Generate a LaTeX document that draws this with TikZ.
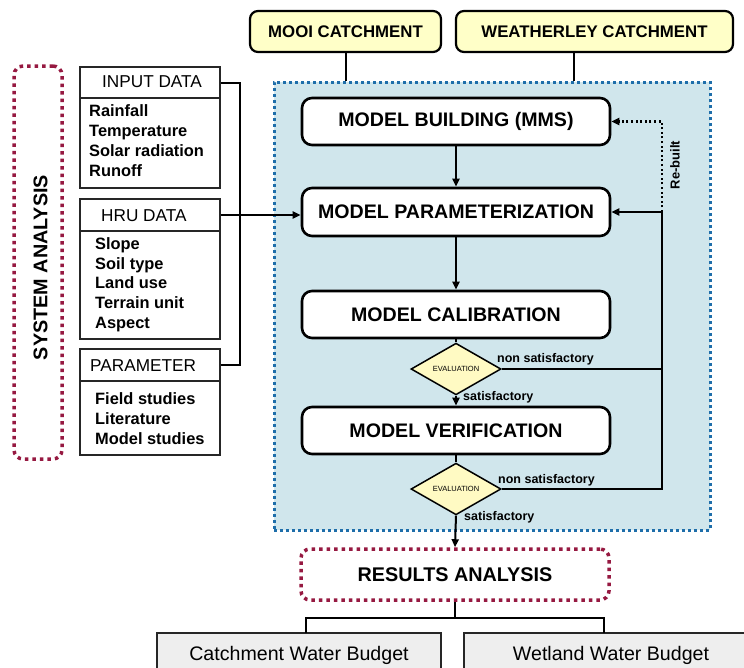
\documentclass[tikz,border=0pt]{standalone}
\usepackage{fontspec}
\setmainfont{Liberation Sans}
\usetikzlibrary{arrows.meta,shapes.geometric}
\definecolor{catfill}{RGB}{255,255,200}
\definecolor{framefill}{RGB}{208,230,236}
\definecolor{frameblue}{RGB}{30,110,170}
\definecolor{maroondot}{RGB}{150,25,65}
\definecolor{evalfill}{RGB}{255,250,195}
\definecolor{budgetfill}{RGB}{238,238,238}
\begin{document}
\begin{tikzpicture}[x=1pt,y=-1pt,
  every node/.style={inner sep=0pt},
  catbox/.style={draw=black, fill=catfill, line width=2.2pt, rounded corners=8pt, font=\fontsize{16.8}{18}\selectfont\bfseries},
  stepbox/.style={draw=black, fill=white, line width=2.6pt, rounded corners=10pt, minimum width=308pt, minimum height=47pt, font=\fontsize{19.6}{22}\selectfont\bfseries},
  evalbox/.style={diamond, draw=black, fill=evalfill, line width=1.5pt, minimum width=90pt, minimum height=32pt, font=\fontsize{7.5}{8}\selectfont},
  framebox/.style={draw=frameblue, fill=framefill, line width=3pt, dash pattern=on 3pt off 3pt},
  redbox/.style={draw=maroondot, line width=3.5pt, dash pattern=on 3.5pt off 4pt, rounded corners=9pt},
  listbox/.style={draw=black!85, fill=white, line width=2pt, minimum width=140pt},
  hdrtext/.style={font=\fontsize{17.2}{20}\selectfont},
  itemtext/.style={font=\fontsize{16.4}{20}\selectfont\bfseries, align=left, anchor=north west},
  labeltext/.style={font=\fontsize{12.5}{14}\selectfont\bfseries},
  budget/.style={draw=black!85, fill=budgetfill, line width=2pt, font=\fontsize{19.6}{22}\selectfont},
  conn/.style={draw=black, line width=2pt},
  arr/.style={-{Triangle[length=8pt,width=7pt]}},
  rebuilt/.style={draw=black, line width=2.2pt, dash pattern=on 2pt off 2.6pt}
]
\useasboundingbox (0,0) rectangle (744,667);

% frame
\node[framebox, minimum width=436pt, minimum height=448pt] (frame) at (492,306) {};

% catchments
\node[catbox, minimum width=191pt, minimum height=41pt] (mooi) at (345.5,31.5) {MOOI CATCHMENT};
\node[catbox, minimum width=277pt, minimum height=41pt] (weath) at (594.5,31.5) {WEATHERLEY CATCHMENT};

% system analysis
\node[redbox, minimum width=48pt, minimum height=393pt] (sys) at (38,262.5) {};
\node[rotate=90, font=\fontsize{19.8}{22}\selectfont\bfseries] (systxt) at (40.5,267.5) {SYSTEM ANALYSIS};

% input data
\node[listbox, minimum height=31pt] (inhdr) at (150,82.5) {};
\node[hdrtext, anchor=west] (inlbl) at (102,81.5) {INPUT DATA};
\node[listbox, minimum height=90pt] (inbody) at (150,143) {};
\node[itemtext] (initems) at (89,104.5) {Rainfall\\Temperature\\Solar radiation\\Runoff};

% HRU data
\node[listbox, minimum height=32pt] (hruhdr) at (150,215) {};
\node[hdrtext, anchor=west] (hrulbl) at (101,215.5) {HRU DATA};
\node[listbox, minimum height=108pt] (hrubody) at (150,285) {};
\node[itemtext, font=\fontsize{16.4}{19.75}\selectfont\bfseries] (hruitems) at (95,237.3) {Slope\\Soil type\\Land use\\Terrain unit\\Aspect};

% parameter
\node[listbox, minimum height=32pt] (parhdr) at (150,365) {};
\node[hdrtext, anchor=west] (parlbl) at (90,365.5) {PARAMETER};
\node[listbox, minimum height=74pt] (parbody) at (150,418) {};
\node[itemtext] (paritems) at (95,392.4) {Field studies\\Literature\\Model studies};

% model steps
\node[stepbox] (build) at (456,121.5) {MODEL BUILDING (MMS)};
\node[stepbox, minimum height=48pt] (param) at (456,212) {MODEL PARAMETERIZATION};
\node[stepbox] (calib) at (456,314.5) {MODEL CALIBRATION};
\node[evalbox] (ev1) at (456,369) {EVALUATION};
\node[stepbox] (verif) at (456,430.5) {MODEL VERIFICATION};
\node[evalbox] (ev2) at (456,489) {EVALUATION};

% results
\node[redbox, fill=white, minimum width=308pt, minimum height=51pt, font=\fontsize{19.8}{22}\selectfont\bfseries] (results) at (455,574.5) {RESULTS ANALYSIS};
\node[budget, minimum width=284pt, minimum height=44pt] (cwb) at (299,655) {Catchment Water Budget};
\node[budget, minimum width=294pt, minimum height=44pt] (wwb) at (611,655) {Wetland Water Budget};

% labels
\node[labeltext, anchor=west] (ns1) at (497,359) {non satisfactory};
\node[labeltext, anchor=west] (s1) at (463,397) {satisfactory};
\node[labeltext, anchor=west] (ns2) at (498,480) {non satisfactory};
\node[labeltext, anchor=west] (s2) at (464,517) {satisfactory};
\node[rotate=90, font=\fontsize{13}{15}\selectfont\bfseries] (rb) at (675,165) {Re-built};

% coordinates
\coordinate (busx) at (240,0);
\coordinate (fbx) at (662,0);
\coordinate (wx) at (574,0);
\coordinate (rbr) at (457,618);
\coordinate (lleg) at (306,633);
\coordinate (rleg) at (604,633);

% catchment lines
\draw[conn] (mooi.south) -- (mooi.south |- frame.north);
\draw[conn] (weath.south -| wx) -- (wx |- frame.north);

% left connectors
\draw[conn] (inhdr.east) -| (busx |- parhdr.east) -- (parhdr.east);
\draw[conn, arr] (hruhdr.east) -- (hruhdr.east -| param.west);

% main flow
\draw[conn, arr] (build.south) -- (param.north);
\draw[conn, arr] (param.south) -- (calib.north);
\draw[conn] (calib.south) -- (ev1.north);
\draw[conn, arr] (ev1.south) -- (verif.north);
\draw[conn] (verif.south) -- (ev2.north);
\draw[conn, arr] (ev2.south) -- (results.north);

% feedback
\draw[conn] (ev1.east) -- (ev1.east -| fbx);
\draw[conn, arr] (ev2.east) -| (fbx |- param.east) -- (param.east);
\draw[rebuilt, arr] (fbx |- param.east) |- (build.east);

% results branch
\draw[conn] (results.south) -- (results.south |- rbr);
\draw[conn] (lleg) -- (lleg |- rbr) -- (rleg |- rbr) -- (rleg);
\end{tikzpicture}
\end{document}
